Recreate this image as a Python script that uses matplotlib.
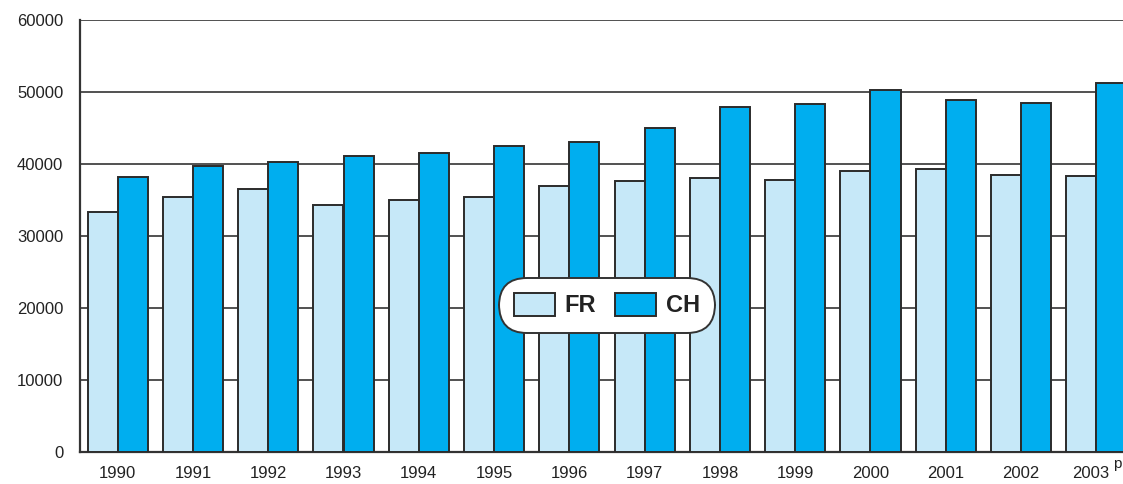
import matplotlib
matplotlib.use("Agg")
import matplotlib.pyplot as plt
import matplotlib.transforms as mtransforms
import numpy as np

years = ["1990", "1991", "1992", "1993", "1994", "1995", "1996",
         "1997", "1998", "1999", "2000", "2001", "2002", "2003"]
fr = [33300, 35400, 36500, 34300, 35000, 35400, 36900,
      37600, 38000, 37800, 39000, 39300, 38500, 38300]
ch = [38200, 39700, 40300, 41100, 41500, 42500, 43100,
      45000, 47900, 48300, 50300, 48900, 48500, 51200]
series_names = ["FR", "CH"]
yticks = [0, 10000, 20000, 30000, 40000, 50000, 60000]

plt.rcParams['font.family'] = ['Liberation Sans', 'DejaVu Sans']

fig = plt.figure(figsize=(11.23, 4.84), dpi=100)
ax = fig.add_axes([80/1123, 32/484, 1054/1123, 432/484])

x = np.arange(len(years))
w = 0.4
edge = "#2b2b2b"
ax.bar(x - w/2, fr, width=w, color="#c6e8f8", edgecolor=edge, linewidth=1.4,
       label=series_names[0], zorder=3)
ax.bar(x + w/2, ch, width=w, color="#00aeef", edgecolor=edge, linewidth=1.4,
       label=series_names[1], zorder=3)

ax.set_xlim(-0.5, len(years) - 0.5)
ax.set_ylim(0, 60000)
ax.set_yticks(yticks)
ax.set_yticklabels([str(v) for v in yticks], fontsize=12)
ax.set_xticks(x)
ax.set_xticklabels(years, fontsize=12)
ax.tick_params(axis='both', length=0, colors="#222222")
ax.tick_params(axis='y', pad=12)
ax.tick_params(axis='x', pad=10)
for lbl in ax.get_xticklabels()[-1:]:
    lbl.set_x(lbl.get_position()[0])
ax.yaxis.grid(True, color="#333333", linewidth=1.2, zorder=0)
ax.set_axisbelow(True)
for s in ["top", "right"]:
    ax.spines[s].set_visible(False)
for s in ["left", "bottom"]:
    ax.spines[s].set_color("#333333")
    ax.spines[s].set_linewidth(1.6)

# shift last tick label slightly left like the reference
offset = mtransforms.ScaledTranslation(-6/100, 0, fig.dpi_scale_trans)
last = ax.get_xticklabels()[-1]
last.set_transform(last.get_transform() + offset)

trans = mtransforms.blended_transform_factory(ax.transData, ax.transAxes)
ax.text(13.22, -0.012, "p", transform=trans, fontsize=11, va="top", ha="left",
        color="#222222")

leg = ax.legend(loc="center", bbox_to_anchor=(0.5, 0.34), ncol=2,
                prop={'family': ['Liberation Sans Narrow', 'Liberation Sans'],
                      'weight': 'bold', 'size': 17},
                handlelength=1.75, handleheight=1.1, handletextpad=0.4,
                columnspacing=0.8, borderpad=0.65, frameon=True, fancybox=True,
                framealpha=1.0)
frame = leg.get_frame()
frame.set_edgecolor("#333333")
frame.set_linewidth(1.4)
frame.set_boxstyle("round,pad=0.,rounding_size=1.2")
for t in leg.get_texts():
    t.set_color("#222222")

fig.savefig("out.png", dpi=100)
